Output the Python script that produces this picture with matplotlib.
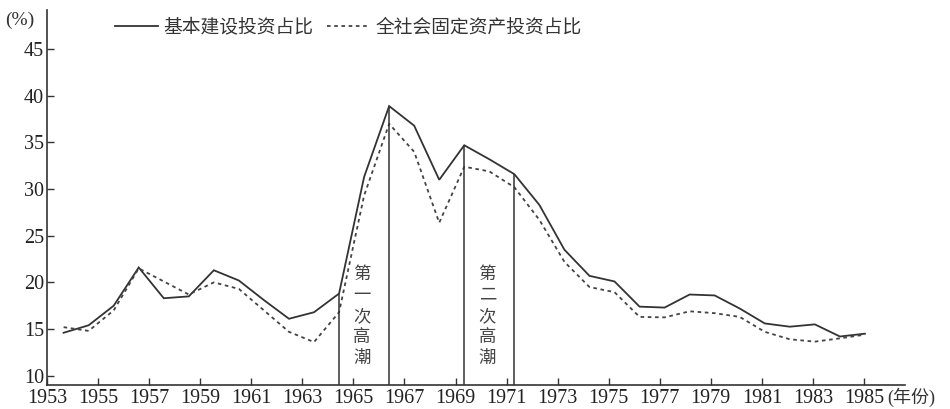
import matplotlib
matplotlib.use("Agg")
import matplotlib.pyplot as plt
from matplotlib.lines import Line2D

# ---------------- data ----------------
years = list(range(1953, 1986))
capital_share = [14.6, 15.4, 17.5, 21.6, 18.3, 18.5, 21.3, 20.2, 18.1, 16.1,
                 16.8, 18.8, 31.3, 38.9, 36.8, 31.0, 34.7, 33.2, 31.6, 28.3,
                 23.5, 20.7, 20.1, 17.4, 17.3, 18.7, 18.6, 17.2, 15.6, 15.25,
                 15.5, 14.2, 14.5]
total_share = [15.2, 14.8, 17.0, 21.5, 20.1, 18.7, 20.0, 19.3, 17.0, 14.7,
               13.6, 16.8, 29.3, 37.0, 34.0, 26.4, 32.4, 31.9, 30.2, 26.7,
               22.2, 19.5, 18.95, 16.3, 16.25, 16.9, 16.7, 16.3, 14.7, 13.9,
               13.65, 14.0, 14.4]
series_names = ["基本建设投资占比", "全社会固定资产投资占比"]
boundary_years = [1964, 1966, 1969, 1971]
annotations = ["第一次高潮", "第二次高潮"]
annotation_years = [1964.92, 1969.92]
tick_labels = list(range(1953, 1986, 2))
y_ticks = [10, 15, 20, 25, 30, 35, 40, 45]

# the printed axis is slightly offset/stretched relative to the plotted points
AXIS_SHIFT = -0.663
AXIS_STRETCH = 1.0196
tick_pos = [1953 + AXIS_SHIFT + (t - 1953) * AXIS_STRETCH for t in tick_labels]

# ---------------- style ----------------
ink = "#333333"
serif = "Liberation Serif"
cjk = ["Noto Sans CJK SC", "DejaVu Sans"]

fig = plt.figure(figsize=(9.5, 4.09), dpi=100)
ax = fig.add_axes([47 / 950, 24 / 409, (905 - 47) / 950, (399 - 24) / 409])

ax.plot(years, capital_share, color=ink, lw=1.3, solid_joinstyle="miter")
ax.plot(years, total_share, color="#444444", lw=1.3, linestyle=(0, (2.0, 2.0)))

ymin = 9.0
heights = [capital_share[years.index(y)] for y in boundary_years]
ax.vlines(boundary_years, ymin, heights, color=ink, lw=1.1)

for label, xv in zip(annotations, annotation_years):
    ax.text(xv, 16.4, "\n".join(label), ha="center", va="center",
            family=cjk, fontsize=12.5, color="#444444", linespacing=1.22)

ax.set_xlim(1953 + AXIS_SHIFT, 1986.6)
ax.set_ylim(ymin, 49.2)

ax.set_xticks(tick_pos)
ax.set_xticklabels([str(t) for t in tick_labels])
ax.set_yticks(y_ticks)
ax.set_yticklabels([str(v) for v in y_ticks])
ax.tick_params(axis="both", direction="in", length=5, width=1.0, color=ink,
               labelsize=14.5, labelcolor="#222222")
ax.tick_params(axis="x", pad=3)
ax.tick_params(axis="y", pad=2)
for lab in ax.get_xticklabels() + ax.get_yticklabels():
    lab.set_family(serif)

for s in ["top", "right"]:
    ax.spines[s].set_visible(False)
for s in ["left", "bottom"]:
    ax.spines[s].set_color(ink)
    ax.spines[s].set_linewidth(1.2)

# legend
handles = [Line2D([], [], color=ink, lw=1.3),
           Line2D([], [], color="#444444", lw=1.3, linestyle=(0, (2.0, 2.0)))]
leg = ax.legend(handles, series_names, loc="center left",
                bbox_to_anchor=((115 - 47) / 858, (382 - 24) / 375),
                frameon=False, ncol=2, handlelength=2.3, handletextpad=0.3,
                columnspacing=0.7, borderpad=0, borderaxespad=0,
                prop={"family": cjk, "size": 13.5})
for t in leg.get_texts():
    t.set_color("#333333")

# unit labels
fig.text(5 / 950, 1 - 20 / 409, "(%)", family=serif, fontsize=14,
         color="#333333", ha="left", va="center")
fig.text(887 / 950, 1 - 397 / 409, "(年份)", family=[serif, "Noto Sans CJK SC"],
         fontsize=13, color="#333333", ha="left", va="center")

fig.savefig("out.png", dpi=100)
